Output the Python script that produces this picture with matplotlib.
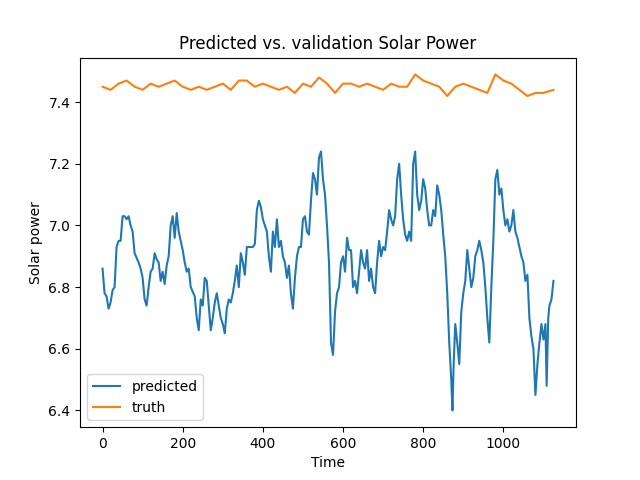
import numpy as np
import matplotlib
matplotlib.use("Agg")
import matplotlib.pyplot as plt

pred_t = [0,5,10,15,20,25,30,35,40,45,50,55,60,65,70,75,80,90,95,100,105,110,115,120,125,130,135,140,145,150,155,160,165,170,175,180,185,190,195,200,205,210,215,220,230,235,240,245,250,255,260,265,270,275,280,285,290,295,300,305,310,315,320,325,330,335,340,345,350,355,360,365,370,375,380,385,390,395,400,410,415,420,425,430,435,440,445,450,455,460,465,470,475,480,485,490,495,500,505,510,515,520,525,530,535,540,545,550,555,560,565,570,575,580,585,590,595,600,605,610,615,620,625,630,635,640,645,650,655,660,665,670,675,680,685,690,695,700,705,710,715,720,725,730,735,740,745,750,755,760,765,770,775,780,785,790,795,800,805,810,815,820,825,830,835,840,845,850,855,860,865,870,873,876,880,885,890,895,900,905,910,915,920,925,930,935,940,945,950,955,960,965,970,975,980,985,990,995,1000,1005,1010,1015,1020,1025,1030,1035,1040,1045,1050,1055,1060,1065,1070,1075,1080,1085,1090,1095,1100,1105,1108,1112,1115,1120,1125]
pred_v = [6.86,6.78,6.77,6.73,6.75,6.79,6.80,6.93,6.95,6.95,7.03,7.03,7.02,7.03,7.00,6.98,6.91,6.88,6.86,6.83,6.76,6.74,6.80,6.85,6.86,6.91,6.89,6.88,6.82,6.85,6.81,6.87,6.90,7.00,7.03,6.96,7.04,6.98,6.95,6.92,6.88,6.85,6.86,6.80,6.77,6.70,6.66,6.76,6.74,6.83,6.82,6.74,6.66,6.70,6.75,6.78,6.74,6.70,6.68,6.65,6.73,6.76,6.75,6.78,6.82,6.87,6.80,6.91,6.88,6.84,6.93,6.93,6.93,6.93,6.94,7.05,7.08,7.06,7.02,6.98,6.90,6.85,6.98,6.93,7.02,6.93,6.95,6.90,6.88,6.83,6.87,6.78,6.73,6.83,6.90,6.93,6.93,7.02,7.03,6.98,6.97,7.08,7.17,7.15,7.10,7.22,7.24,7.15,7.10,7.00,6.88,6.62,6.58,6.72,6.78,6.80,6.88,6.90,6.85,6.96,6.92,6.92,6.80,6.82,6.78,6.85,6.92,6.88,6.86,6.92,6.82,6.86,6.80,6.78,6.88,6.95,6.90,6.93,6.92,6.98,7.05,7.02,7.00,7.03,7.15,7.20,7.10,7.02,6.97,6.95,6.98,6.95,7.20,7.24,7.10,7.05,7.08,7.15,7.12,7.05,7.00,7.00,7.05,7.03,7.13,7.10,7.05,6.97,6.90,6.78,6.62,6.50,6.40,6.55,6.68,6.62,6.55,6.72,6.78,6.82,6.92,6.86,6.80,6.83,6.90,6.92,6.95,6.92,6.88,6.80,6.70,6.62,6.80,6.95,7.15,7.18,7.10,7.12,7.05,7.00,7.02,6.98,7.00,7.05,6.98,6.96,6.93,6.90,6.88,6.82,6.84,6.70,6.64,6.60,6.45,6.55,6.62,6.68,6.63,6.68,6.48,6.70,6.74,6.76,6.82]

truth_t = [0,20,40,60,80,100,120,140,160,180,200,220,240,260,280,300,320,340,360,380,400,420,440,460,480,500,520,540,560,580,600,620,640,660,680,700,720,740,760,780,800,820,840,860,880,900,920,940,960,980,1000,1020,1040,1060,1080,1100,1125]
truth_v = [7.45,7.44,7.46,7.47,7.45,7.44,7.46,7.45,7.46,7.47,7.45,7.44,7.45,7.44,7.45,7.46,7.44,7.47,7.47,7.45,7.46,7.45,7.44,7.45,7.43,7.46,7.45,7.48,7.46,7.43,7.46,7.46,7.45,7.46,7.45,7.44,7.46,7.45,7.45,7.49,7.47,7.46,7.45,7.42,7.45,7.46,7.45,7.44,7.43,7.49,7.47,7.46,7.44,7.42,7.43,7.43,7.44]

fig, ax = plt.subplots(figsize=(6.4, 4.8), dpi=100)
ax.plot(pred_t, pred_v, label="predicted")
ax.plot(truth_t, truth_v, label="truth")
ax.set_title("Predicted vs. validation Solar Power")
ax.set_xlabel("Time")
ax.set_ylabel("Solar power")
ax.legend(loc="lower left")
fig.savefig("out.png")
